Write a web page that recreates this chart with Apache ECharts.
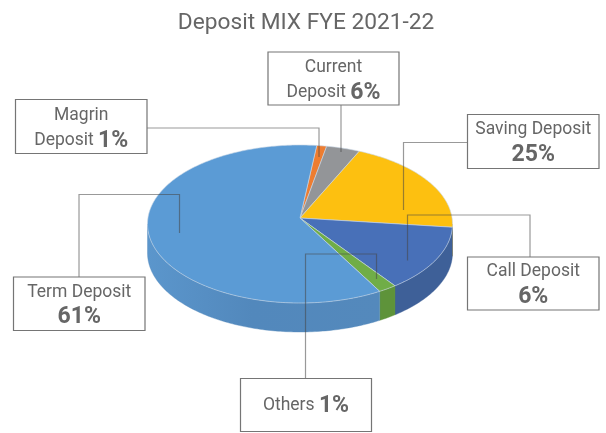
<!DOCTYPE html>
<html><head><meta charset="utf-8">
<style>html,body{margin:0;padding:0;background:#fff}#c{width:606px;height:433px}</style>
<script src="https://cdn.jsdelivr.net/npm/echarts@6/dist/echarts.min.js"></script>
</head><body><div id="c"></div>
<script>
// Data
const chartTitle = 'Deposit MIX FYE 2021-22';
const categories = ['Magrin Deposit','Current Deposit','Saving Deposit','Call Deposit','Others','Term Deposit'];
const labelPercents = ['1%','6%','25%','6%','1%','61%'];
// share of the drawn pie per slice (the printed labels differ)
const sliceShares = [1.05,3.55,19.3,13.65,1.95,60.5];
const firstAngle = 6.3;

const topColors  = ['#ED7D31','#939598','#FDC010','#4870B8','#70AD47','#5B9BD5'];
const sideColors = ['#B85F22','#77787A','#C49000','#3E6098','#5E933A','#5489BC'];

// Geometry of the tilted disc
const P = {cx:300, cy:224, rx:152.5, ry:79, apexY:218, depth:29};
const pt = (deg,dy=0) => { const a=deg*Math.PI/180; return [P.cx+P.rx*Math.sin(a), P.cy-P.ry*Math.cos(a)+dy]; };
const total = sliceShares.reduce((a,b)=>a+b,0);
const spans = []; { let s=firstAngle; sliceShares.forEach(v=>{const e=s+v/total*360; spans.push([s,e]); s=e;}); }
const arc = (a,b,dy=0) => { const n=Math.max(2,Math.ceil(Math.abs(b-a))); const o=[]; for(let i=0;i<=n;i++) o.push(pt(a+(b-a)*i/n,dy)); return o; };

function renderSide(params, api){
  const i=params.dataIndex, [s,e]=spans[i];
  const a=Math.max(s,90), b=Math.min(e,270);
  if(a>=b) return {type:'group',children:[]};
  const pts=arc(a,b,0).concat(arc(b,a,P.depth));
  const fill = i===5
    ? new echarts.graphic.LinearGradient(0,0,1,0,[{offset:0,color:'#5B96CC'},{offset:0.45,color:'#5288BC'},{offset:1,color:'#5489BC'}])
    : sideColors[i];
  return {type:'polygon',shape:{points:pts},style:{fill:fill,stroke:sideColors[i],lineWidth:0.4}};
}
function renderTop(params, api){
  const i=params.dataIndex, [s,e]=spans[i];
  const pts=[[P.cx,P.apexY]].concat(arc(s,e));
  return {type:'polygon',shape:{points:pts},style:{fill:topColors[i],stroke:'#C9D6E6',lineWidth:0.6}};
}

const fontFam='Roboto';
const boxes=[
 {b:[15.5,99.5,131.5,54],  dy:2, leader:[[147,128],[319,128],[319,157]]},
 {b:[268,52,131,53],       dy:2, leader:[[341,105],[341,152]]},
 {b:[467.5,114.5,131.5,54],dy:1, leader:[[467,142.5],[403.5,142.5],[403.5,210]]},
 {b:[467.5,257,131.5,53],  dy:1, leader:[[530,257],[530,215],[407.5,215],[407.5,260.5]]},
 {b:[240.5,378.5,131,53],  dy:1, leader:[[305.5,378],[305.5,254],[376.5,254],[376.5,279]]},
 {b:[13.5,277,131.5,53.5], dy:1, leader:[[79,277],[79,194.5],[179.5,194.5],[179.5,233]]}
];
const lineBreaks=[['Magrin','Deposit '],['Current','Deposit '],['Saving Deposit',''],['Call Deposit',''],['','Others '],['Term Deposit','']];
const graphics=[];
boxes.forEach((o,i)=>{
  graphics.push({type:'polyline',z:10,shape:{points:o.leader},style:{stroke:'rgba(70,70,70,0.55)',lineWidth:1.2,fill:null}});
  graphics.push({type:'rect',z:11,shape:{x:o.b[0],y:o.b[1],width:o.b[2],height:o.b[3]},style:{fill:'#fff',stroke:'#757575',lineWidth:1.2}});
  const [l1,l2]=lineBreaks[i];
  const cx=o.b[0]+o.b[2]/2, cy=o.b[1]+o.b[3]/2+o.dy;
  const rich={n:{fontFamily:fontFam,fontSize:17.5,fill:'#666',lineHeight:25},p:{fontFamily:fontFam,fontSize:23,fontWeight:'bold',fill:'#666',lineHeight:25}};
  let txt;
  if(l1 && l2) txt='{n|'+l1+'}\n{n|'+l2+'}{p|'+labelPercents[i]+'}';
  else if(l1) txt='{n|'+l1+'}\n{p|'+labelPercents[i]+'}';
  else txt='{n|'+l2+'}{p|'+labelPercents[i]+'}';
  graphics.push({type:'text',z:12,x:cx,y:cy,style:{text:txt,rich,align:'center',verticalAlign:'middle'}});
});
graphics.push({type:'text',z:12,x:306,y:23,style:{text:chartTitle,fontFamily:fontFam,fontSize:22.7,fill:'#666',align:'center',verticalAlign:'middle'}});

const chart=echarts.init(document.getElementById('c'),null,{renderer:'canvas'});
chart.setOption({
  animation:false,
  backgroundColor:'#fff',
  graphic:graphics,
  series:[
    {type:'custom',coordinateSystem:'none',renderItem:renderSide,data:sliceShares.map((v,i)=>({name:categories[i],value:v})),z:2,silent:true},
    {type:'custom',coordinateSystem:'none',renderItem:renderTop,data:sliceShares.map((v,i)=>({name:categories[i],value:v})),z:3,silent:true}
  ]
});
</script></body></html>
